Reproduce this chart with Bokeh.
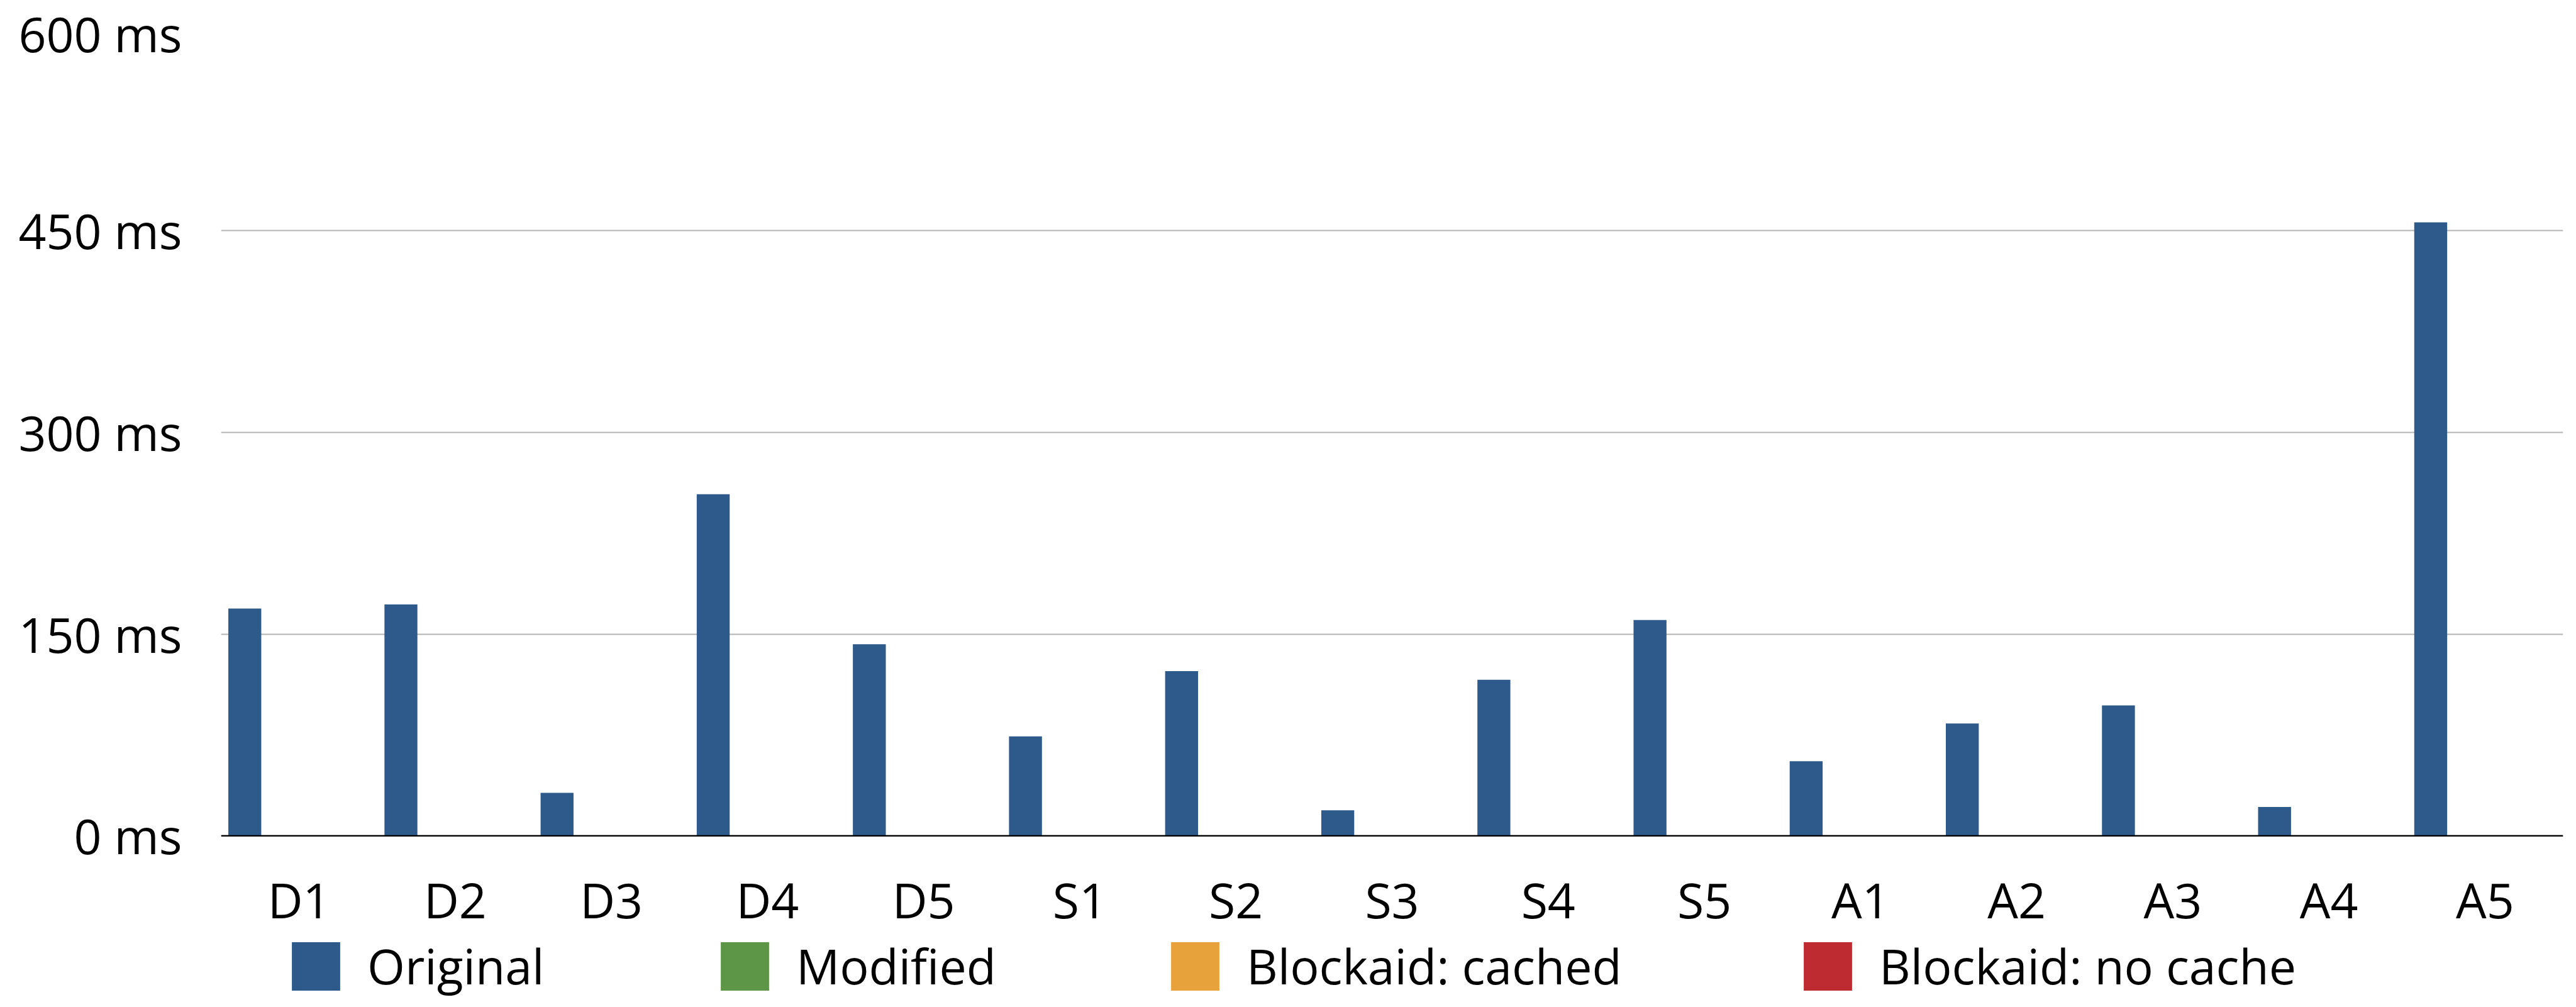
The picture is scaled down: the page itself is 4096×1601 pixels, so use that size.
from bokeh.plotting import figure
from bokeh.models import (Range1d, FactorRange, FixedTicker, Legend, LegendItem,
                          ColumnDataSource, Span)
from bokeh.core.properties import value
from bokeh.transform import dodge
from bokeh.embed import file_html
from bokeh.resources import INLINE

# ---------------- data ----------------
categories = ["D1", "D2", "D3", "D4", "D5",
              "S1", "S2", "S3", "S4", "S5",
              "A1", "A2", "A3", "A4", "A5"]
original = [169, 172, 32, 254, 142.5, 74, 122.5, 19, 116, 160.5,
            55.5, 83.5, 97, 21.5, 456]
modified = [0, 0, 0, 0, 0, 0, 0, 0, 0, 0, 0, 0, 0, 0, 0]
blockaid_cached = [0, 0, 0, 0, 0, 0, 0, 0, 0, 0, 0, 0, 0, 0, 0]
blockaid_no_cache = [0, 0, 0, 0, 0, 0, 0, 0, 0, 0, 0, 0, 0, 0, 0]

series_names = ["Original", "Modified", "Blockaid: cached", "Blockaid: no cache"]
series_cols = ["original", "modified", "cached", "nocache"]
series_colors = ["#2e5a8b", "#5e9648", "#e8a23c", "#be2c31"]

y_ticks = [0, 150, 300, 450, 600]
y_tick_labels = ["0 ms", "150 ms", "300 ms", "450 ms", "600 ms"]

# ---------------- styles / layout ----------------
FONT = "Open Sans"
FS = "77px"
bar_offsets = [-0.348, -0.116, 0.116, 0.348]
bar_width = 0.211
Y_BOTTOM = -123.2          # extra room under the axis for labels and legend
XLABEL_OFFSET = 102        # px from the zero line to the label baseline
legend_x = [103, 785, 1501, 2507]
legend_y = 4

source = ColumnDataSource(dict(cat=categories, original=original, modified=modified,
                               cached=blockaid_cached, nocache=blockaid_no_cache))

p = figure(x_range=FactorRange(factors=categories, range_padding=0),
           y_range=Range1d(Y_BOTTOM, 600),
           x_axis_location=None,
           width=4088, height=1592,
           min_border_left=351, min_border_right=13,
           min_border_top=45, min_border_bottom=0,
           output_backend="svg", toolbar_location=None)

p.background_fill_color = "white"
p.border_fill_color = "white"
p.outline_line_color = None
p.xgrid.grid_line_color = None

# y axis + grid
p.yaxis.ticker = FixedTicker(ticks=y_ticks)
p.yaxis.major_label_overrides = {t: l for t, l in zip(y_ticks, y_tick_labels)}
p.yaxis.axis_line_color = None
p.yaxis.major_tick_line_color = None
p.yaxis.minor_tick_line_color = None
p.yaxis.major_tick_out = 0
p.yaxis.major_tick_in = 0
p.yaxis.major_label_standoff = 62
p.yaxis.major_label_text_font = FONT
p.yaxis.major_label_text_font_size = FS
p.yaxis.major_label_text_color = "black"
p.ygrid.grid_line_color = "#b3b3b3"
p.ygrid.grid_line_width = 1.8

renderers = []
for col, off, color in zip(series_cols, bar_offsets, series_colors):
    r = p.vbar(x=dodge("cat", off, range=p.x_range), top=col, bottom=0,
               width=bar_width, source=source, fill_color=color, line_color=None)
    renderers.append(r)

# category axis: zero line and labels
p.add_layout(Span(location=0, dimension="width", line_color="black", line_width=2.2))
p.text(x="cat", y=0, text="cat", source=source, y_offset=XLABEL_OFFSET,
       text_align="center", text_baseline="alphabetic",
       text_font=value(FONT), text_font_size=value(FS), text_color="black")

# legend entries, placed under the categories
for name, r, lx in zip(series_names, renderers, legend_x):
    leg = Legend(items=[LegendItem(label=name, renderers=[r])],
                 location=(lx, legend_y), orientation="horizontal",
                 glyph_width=96, glyph_height=96, label_standoff=34,
                 padding=0, margin=0, spacing=0,
                 border_line_color=None, background_fill_alpha=0,
                 label_text_font=FONT, label_text_font_size=FS,
                 label_text_color="black")
    p.add_layout(leg, "center")

open("out.html", "w").write(file_html(p, INLINE))
